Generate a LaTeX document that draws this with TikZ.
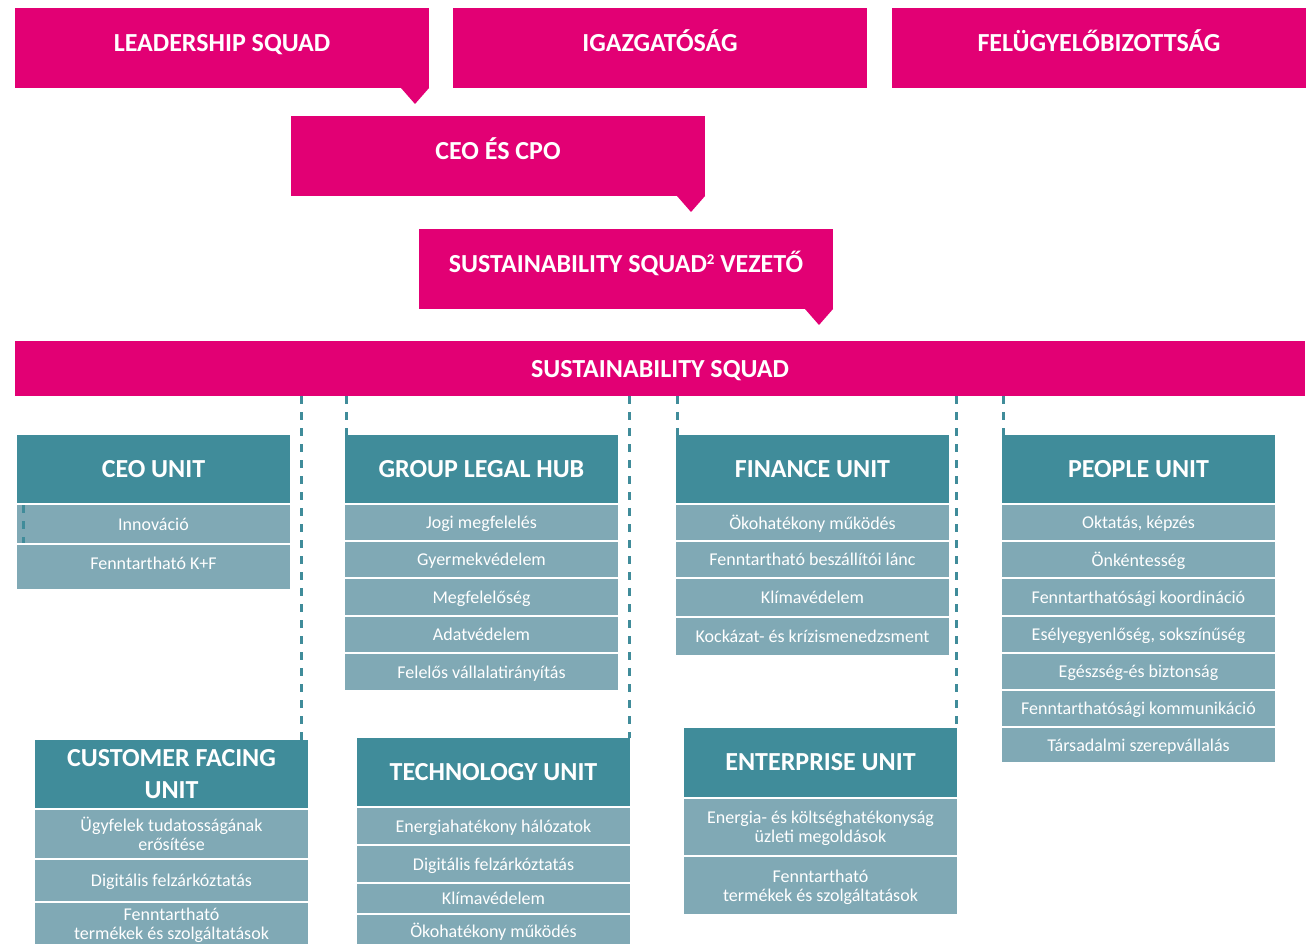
\documentclass[tikz,border=0pt]{standalone}
\usepackage{fontspec}
\setmainfont{Carlito}
\usepackage{tikz}
\usetikzlibrary{positioning}
\definecolor{Magenta}{HTML}{E20074}
\definecolor{UnitHead}{HTML}{408C9A}
\definecolor{UnitItem}{HTML}{80A9B5}

\begin{document}
\begin{tikzpicture}[x=1pt, y=-1pt,
  Board/.style={fill=Magenta, text=white, anchor=north west, inner sep=0pt, outer sep=0pt, minimum width=414pt, minimum height=80pt, text height=17pt, text depth=10pt, font=\bfseries\fontsize{26}{31}\selectfont},
  Squad/.style={Board, minimum width=1290pt, minimum height=55pt, text depth=0pt},
  Unit/.style={fill=UnitHead, text=white, anchor=north west, align=center, inner sep=0pt, outer sep=0pt, minimum width=273pt, minimum height=68pt, font=\bfseries\fontsize{26}{32}\selectfont},
  Item/.style={fill=UnitItem, text=white, align=center, inner sep=0pt, outer sep=0pt, minimum width=273pt, text depth=0pt, font=\fontsize{18}{19}\selectfont},
  Link/.style={draw=UnitHead, line width=3pt, dash pattern=on 8pt off 8pt}]

\useasboundingbox (0,0) rectangle (1310,944);
\clip (0,0) rectangle (1310,944);

% leadership
\node [Board] (lead) at (15,8) {LEADERSHIP SQUAD};
\node [Board] (board) at (453,8) {IGAZGATÓSÁG};
\node [Board] (supboard) at (892,8) {FELÜGYELŐBIZOTTSÁG};
\node [Board] (ceo) at (291,116) {CEO ÉS CPO};
\node [Board] (sqlead) at (419,229) {SUSTAINABILITY SQUAD\raisebox{8pt}{\fontsize{15}{15}\selectfont 2} VEZETŐ};

\foreach \name in {lead, ceo, sqlead} {
  \fill [Magenta] ([xshift=-28pt]\name.south east) -- (\name.south east) -- ([xshift=-14pt, yshift=-16pt]\name.south east) -- cycle;
}

\node [Squad] (squad) at (15,341) {SUSTAINABILITY SQUAD};

% units, first row
\node [Unit, alias=ceou-0] (ceou) at (17,435) {CEO UNIT};
\node [Item, minimum height=38pt, below=2pt of ceou] (ceou-1) {Innováció};
\node [Item, minimum height=44pt, text depth=8pt, below=2pt of ceou-1] (ceou-2) {Fenntartható K+F};

\node [Unit, alias=legal-0] (legal) at (345,435) {GROUP LEGAL HUB};
\foreach \txt/\h [count=\i, remember=\i as \last (initially 0)] in {Jogi megfelelés/35, Gyermekvédelem/35, Megfelelőség/36, Adatvédelem/35, Felelős vállalatirányítás/36}
  \node [Item, minimum height=\h pt, below=2pt of legal-\last] (legal-\i) {\txt};

\node [Unit, alias=fin-0] (fin) at (676,435) {FINANCE UNIT};
\foreach \txt/\h [count=\i, remember=\i as \last (initially 0)] in {Ökohatékony működés/35, Fenntartható beszállítói lánc/35, Klímavédelem/37, Kockázat- és krízismenedzsment/37}
  \node [Item, minimum height=\h pt, below=2pt of fin-\last] (fin-\i) {\txt};

\node [Unit, alias=people-0] (people) at (1002,435) {PEOPLE UNIT};
\foreach \txt/\h [count=\i, remember=\i as \last (initially 0)] in {{Oktatás, képzés}/35, Önkéntesség/35, Fenntarthatósági koordináció/36, {Esélyegyenlőség, sokszínűség}/35, Egészség-és biztonság/35, Fenntarthatósági kommunikáció/35, Társadalmi szerepvállalás/34}
  \node [Item, minimum height=\h pt, below=2pt of people-\last] (people-\i) {\txt};

% units, second row
\node [Unit, alias=cust-0] (cust) at (35,740) {CUSTOMER FACING\\UNIT};
\foreach \txt/\h [count=\i, remember=\i as \last (initially 0)] in {{Ügyfelek tudatosságának\\erősítése}/48, Digitális felzárkóztatás/41, {Fenntartható\\termékek és szolgáltatások}/42}
  \node [Item, minimum height=\h pt, below=2pt of cust-\last] (cust-\i) {\txt};

\node [Unit, alias=tech-0] (tech) at (357,738) {TECHNOLOGY UNIT};
\foreach \txt/\h [count=\i, remember=\i as \last (initially 0)] in {Energiahatékony hálózatok/36, Digitális felzárkóztatás/36, Klímavédelem/29, Ökohatékony működés/31}
  \node [Item, minimum height=\h pt, below=2pt of tech-\last] (tech-\i) {\txt};

\node [Unit, minimum height=69pt, alias=ent-0] (ent) at (684,728) {ENTERPRISE UNIT};
\foreach \txt/\h [count=\i, remember=\i as \last (initially 0)] in {{Energia- és költséghatékonyság\\üzleti megoldások}/56, {Fenntartható\\termékek és szolgáltatások}/57}
  \node [Item, minimum height=\h pt, below=2pt of ent-\last] (ent-\i) {\txt};

% dashed links from the squad
\coordinate (cust-top) at ([xshift=-7pt]cust.north east);
\coordinate (legal-top) at ([xshift=1pt]legal.north west);
\coordinate (tech-top) at ([xshift=-1pt]tech.north east);
\coordinate (fin-top) at ([xshift=1pt]fin.north west);
\coordinate (ent-top) at ([xshift=-1pt]ent.north east);
\coordinate (people-top) at ([xshift=1pt]people.north west);

\foreach \name in {cust, legal, tech, fin, ent, people} {
  \draw [Link] (\name-top |- squad.south) -- (\name-top);
}
\draw [Link] ([xshift=6pt]ceou-1.north west) -- ([xshift=6pt]ceou-1.south west);
\end{tikzpicture}
\end{document}
